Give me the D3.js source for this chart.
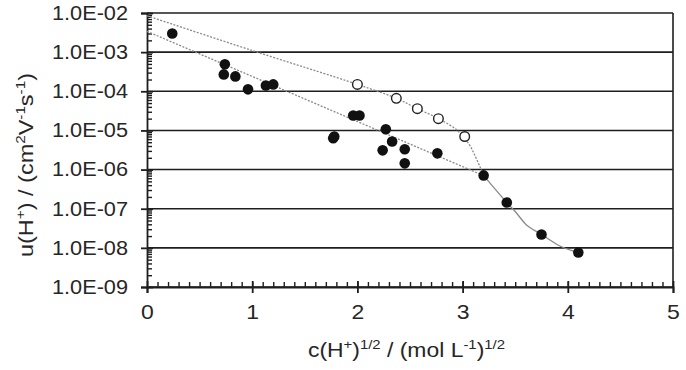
<!DOCTYPE html>
<html>
<head>
<meta charset="utf-8">
<script src="https://cdn.jsdelivr.net/npm/d3@7"></script>
<style>
body { margin: 0; background: #fff; }
text { font-family: "Liberation Sans", Arial, sans-serif; fill: #262626; }
</style>
</head>
<body>
<svg id="chart" width="686" height="370"></svg>
<script>
// measured points (filled = one set, open = other set)
var filledX = [0.24, 0.74, 0.73, 0.84, 0.96, 1.13, 1.20, 1.77, 1.78, 1.96, 2.02, 2.24, 2.27, 2.33, 2.45, 2.45, 2.76, 3.20, 3.42, 3.75, 4.10];
var filledY = [3.0e-3, 4.9e-4, 2.7e-4, 2.4e-4, 1.12e-4, 1.4e-4, 1.5e-4, 6.3e-6, 7.0e-6, 2.4e-5, 2.4e-5, 3.1e-6, 1.07e-5, 5.2e-6, 3.3e-6, 1.44e-6, 2.6e-6, 7.1e-7, 1.44e-7, 2.2e-8, 7.6e-9];
var openX = [2.00, 2.37, 2.57, 2.77, 3.02];
var openY = [1.5e-4, 6.6e-5, 3.6e-5, 2.0e-5, 7.0e-6];

// fitted curves
var lowerFitX = [0, 3.2];
var lowerFitY = [3.4e-3, 7.0e-7];
var upperFitX = [0, 1, 2, 2.37, 2.57, 2.77, 2.95, 3.06, 3.12, 3.17, 3.2];
var upperFitY = [8.5e-3, 1.1e-3, 1.5e-4, 6.6e-5, 3.6e-5, 2.0e-5, 1.0e-5, 4.5e-6, 2.2e-6, 1.1e-6, 7.0e-7];
var dropFitX = [3.2, 3.42, 3.5, 3.61, 3.75, 3.93, 4.1];
var dropFitY = [7.0e-7, 1.44e-7, 8.5e-8, 3.8e-8, 2.2e-8, 1.1e-8, 7.6e-9];

// axes
var xTicks = [0, 1, 2, 3, 4, 5];
var yTicks = [1e-2, 1e-3, 1e-4, 1e-5, 1e-6, 1e-7, 1e-8, 1e-9];
var yTickLabels = ["1.0E-02", "1.0E-03", "1.0E-04", "1.0E-05", "1.0E-06", "1.0E-07", "1.0E-08", "1.0E-09"];

var ctx = {
    w: 686,
    h: 370,
    left: 147,
    right: 13,
    top: 13,
    bottom: 83,
    ink: "#1e1e1e",
    fitColor: "#8a8a8a"
};

var svgEl = d3.select("#chart");
var pw = ctx.w - ctx.left - ctx.right;
var ph = ctx.h - ctx.top - ctx.bottom;

var x = d3.scaleLinear().domain([0, 5]).range([0, pw]);
var y = d3.scaleLog().domain([1e-9, 1e-2]).range([ph, 0]);

var g = svgEl.append("g")
    .attr("transform", "translate(" + ctx.left + "," + ctx.top + ")");

// horizontal grid, one per decade
g.selectAll("line.grid")
    .data(yTicks)
    .enter()
    .append("line")
    .attr("class", "grid")
    .attr("x1", 0)
    .attr("x2", pw)
    .attr("y1", (d) => y(d))
    .attr("y2", (d) => y(d))
    .attr("stroke", ctx.ink)
    .attr("stroke-width", 1.6);

// right border
g.append("line")
    .attr("x1", pw).attr("x2", pw)
    .attr("y1", 0).attr("y2", ph)
    .attr("stroke", ctx.ink)
    .attr("stroke-width", 1.6);

// minor ticks (inside)
var minorY = [];
d3.range(-9, -2).forEach(function(e) {
    d3.range(2, 10).forEach(function(m) { minorY.push(m * Math.pow(10, e)); });
});
g.append("g")
    .call(d3.axisRight(y).tickValues(minorY).tickSize(5).tickFormat(""))
    .call((a) => a.select(".domain").remove())
    .selectAll("line").attr("stroke", ctx.ink).attr("stroke-width", 1.4);

g.append("g")
    .attr("transform", "translate(0," + ph + ")")
    .call(d3.axisTop(x).tickValues(d3.range(1, 50).map((i) => i / 10)).tickSize(5).tickFormat(""))
    .call((a) => a.select(".domain").remove())
    .selectAll("line").attr("stroke", ctx.ink).attr("stroke-width", 1.4);

// main axes
var yAxis = g.append("g")
    .call(d3.axisLeft(y).tickValues(yTicks).tickFormat((d, i) => yTickLabels[i]).tickSize(6).tickPadding(13));
yAxis.select(".domain").attr("stroke", ctx.ink).attr("stroke-width", 1.8);
yAxis.selectAll(".tick line").attr("x1", 6).attr("stroke", ctx.ink).attr("stroke-width", 1.8);
yAxis.selectAll(".tick text")
    .attr("font-size", 20)
    .attr("textLength", 76)
    .attr("lengthAdjust", "spacingAndGlyphs")
    .style("font-family", "'Liberation Sans', Arial, sans-serif")
    .attr("fill", "#262626");

var xAxis = g.append("g")
    .attr("transform", "translate(0," + ph + ")")
    .call(d3.axisBottom(x).tickValues(xTicks).tickFormat(d3.format("d")).tickSize(6).tickPadding(12));
xAxis.select(".domain").attr("stroke", ctx.ink).attr("stroke-width", 1.8);
xAxis.selectAll(".tick line").attr("y1", -6).attr("stroke", ctx.ink).attr("stroke-width", 1.8);
xAxis.selectAll(".tick text")
    .attr("font-size", 20)
    .attr("transform", "scale(1.15,1)")
    .style("font-family", "'Liberation Sans', Arial, sans-serif")
    .attr("fill", "#262626");

// fitted curves
var fitLine = d3.line()
    .x((d) => x(d[0]))
    .y((d) => y(d[1]))
    .curve(d3.curveCatmullRom.alpha(0.5));

g.append("path")
    .datum(d3.zip(lowerFitX, lowerFitY))
    .attr("d", fitLine)
    .attr("fill", "none")
    .attr("stroke", ctx.fitColor)
    .attr("stroke-width", 1.3)
    .attr("stroke-dasharray", "2,1.5");

g.append("path")
    .datum(d3.zip(upperFitX, upperFitY))
    .attr("d", fitLine)
    .attr("fill", "none")
    .attr("stroke", ctx.fitColor)
    .attr("stroke-width", 1.3)
    .attr("stroke-dasharray", "2,1.5");

g.append("path")
    .datum(d3.zip(dropFitX, dropFitY))
    .attr("d", fitLine)
    .attr("fill", "none")
    .attr("stroke", ctx.fitColor)
    .attr("stroke-width", 1.3);

// points
g.selectAll("circle.filled")
    .data(d3.zip(filledX, filledY))
    .enter()
    .append("circle")
    .attr("class", "filled")
    .attr("cx", (d) => x(d[0]))
    .attr("cy", (d) => y(d[1]))
    .attr("r", 5.3)
    .attr("fill", "#111");

g.selectAll("circle.open")
    .data(d3.zip(openX, openY))
    .enter()
    .append("circle")
    .attr("class", "open")
    .attr("cx", (d) => x(d[0]))
    .attr("cy", (d) => y(d[1]))
    .attr("r", 4.8)
    .attr("fill", "#fff")
    .attr("stroke", "#222")
    .attr("stroke-width", 1.4);

// axis titles
var xTitle = svgEl.append("text")
    .attr("x", 406.5)
    .attr("y", 357)
    .attr("text-anchor", "middle")
    .attr("font-size", 20)
    .attr("textLength", 197)
    .attr("lengthAdjust", "spacingAndGlyphs");
xTitle.append("tspan").text("c(H");
xTitle.append("tspan").attr("font-size", 13).attr("dy", -8).text("+");
xTitle.append("tspan").attr("dy", 8).text(")");
xTitle.append("tspan").attr("font-size", 13).attr("dy", -8).text("1/2");
xTitle.append("tspan").attr("dy", 8).text(" / (mol L");
xTitle.append("tspan").attr("font-size", 13).attr("dy", -8).text("-1");
xTitle.append("tspan").attr("dy", 8).text(")");
xTitle.append("tspan").attr("font-size", 13).attr("dy", -8).text("1/2");

var yTitle = svgEl.append("text")
    .attr("transform", "translate(33,165) rotate(-90)")
    .attr("text-anchor", "middle")
    .attr("font-size", 20)
    .attr("textLength", 184)
    .attr("lengthAdjust", "spacingAndGlyphs");
yTitle.append("tspan").text("u(H");
yTitle.append("tspan").attr("font-size", 13).attr("dy", -8).text("+");
yTitle.append("tspan").attr("dy", 8).text(") / (cm");
yTitle.append("tspan").attr("font-size", 13).attr("dy", -8).text("2");
yTitle.append("tspan").attr("dy", 8).text("V");
yTitle.append("tspan").attr("font-size", 13).attr("dy", -8).text("-1");
yTitle.append("tspan").attr("dy", 8).text("s");
yTitle.append("tspan").attr("font-size", 13).attr("dy", -8).text("-1");
yTitle.append("tspan").attr("dy", 8).text(")");
</script>
</body>
</html>
